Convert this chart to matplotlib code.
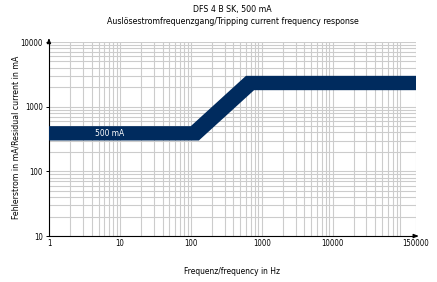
import matplotlib
matplotlib.use("Agg")
import matplotlib.pyplot as plt
from matplotlib.ticker import FixedLocator, LogLocator, NullFormatter

# Data
upper_edge_f = [1, 100, 600, 150000]
upper_edge_i = [500, 500, 3000, 3000]
lower_edge_f = [1, 130, 780, 150000]
lower_edge_i = [300, 300, 1800, 1800]
x_ticks = [1, 10, 100, 1000, 10000, 150000]
x_tick_labels = ["1", "10", "100", "1000", "10000", "150000"]
y_ticks = [10, 100, 1000, 10000]
y_tick_labels = ["10", "100", "1000", "10000"]
band_label = "500 mA"

navy = "#002b5e"
grid_c = "#cccccc"
fs = 6.0
plt.rcParams["font.family"] = ["DejaVu Sans"]
plt.rcParams["font.stretch"] = "condensed"

fig = plt.figure(figsize=(4.37, 2.82), dpi=100)
ax = fig.add_axes([0.112, 0.163, 0.840, 0.688])
ax.set_xscale("log")
ax.set_yscale("log")
ax.set_xlim(1, 150000)
ax.set_ylim(10, 10000)

# band polygon
poly_x = upper_edge_f + lower_edge_f[::-1]
poly_y = upper_edge_i + lower_edge_i[::-1]
ax.fill(poly_x, poly_y, color=navy, lw=0, zorder=3)
ax.text(4.4, 387, band_label, color="white", fontsize=fs, va="center", ha="left", zorder=4)

ax.xaxis.set_major_locator(FixedLocator(x_ticks))
ax.set_xticklabels(x_tick_labels)
ax.xaxis.set_minor_locator(LogLocator(base=10, subs=range(2, 10), numticks=20))
ax.xaxis.set_minor_formatter(NullFormatter())
ax.yaxis.set_major_locator(FixedLocator(y_ticks))
ax.set_yticklabels(y_tick_labels)
ax.yaxis.set_minor_locator(LogLocator(base=10, subs=range(2, 10), numticks=20))
ax.yaxis.set_minor_formatter(NullFormatter())

ax.grid(True, which="both", color=grid_c, lw=0.8, zorder=0)
ax.set_axisbelow(True)
ax.tick_params(which="major", length=2.5, width=0.7, labelsize=fs - 0.4, pad=2, color="black")
ax.tick_params(which="minor", length=0)
ax.tick_params(axis="x", which="major", length=0)

for s in ["top", "right"]:
    ax.spines[s].set_visible(False)
for s in ["left", "bottom"]:
    ax.spines[s].set_linewidth(0.8)

# arrows
ax.annotate("", xy=(0, 1.035), xytext=(0, 0.99), xycoords="axes fraction",
            arrowprops=dict(arrowstyle="-|>,head_length=0.3,head_width=0.12", lw=0.8, color="black"),
            annotation_clip=False)
ax.annotate("", xy=(1.015, 0), xytext=(0.99, 0), xycoords="axes fraction",
            arrowprops=dict(arrowstyle="-|>,head_length=0.3,head_width=0.12", lw=0.8, color="black"),
            annotation_clip=False)

ax.set_xlabel("Frequenz/frequency in Hz", fontsize=fs, labelpad=14)
ax.set_ylabel("Fehlerstrom in mA/Residual current in mA", fontsize=fs + 0.2)
ax.yaxis.set_label_coords(-0.078, 0.51)
fig.text(0.532, 0.965, "DFS 4 B SK, 500 mA", fontsize=fs + 0.3, ha="center", va="center")
fig.text(0.532, 0.925, "Auslösestromfrequenzgang/Tripping current frequency response",
         fontsize=fs + 0.3, ha="center", va="center")

fig.savefig("out.png", dpi=100)
